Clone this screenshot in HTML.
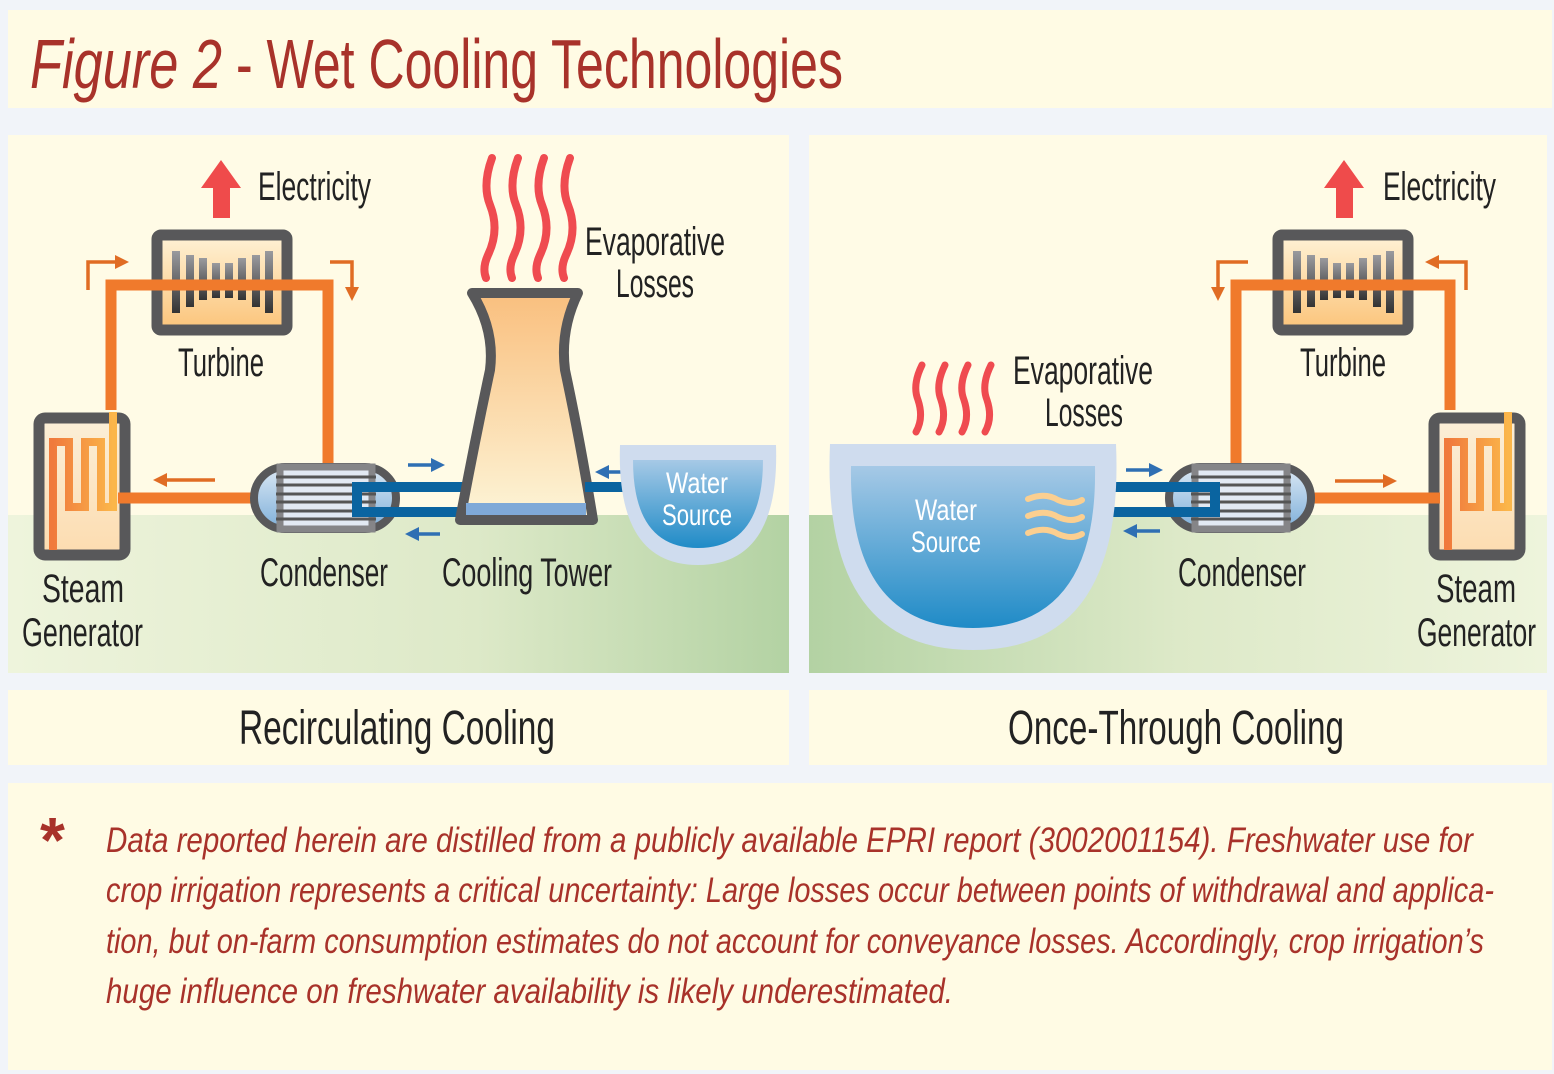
<!DOCTYPE html>
<html><head><meta charset="utf-8"><style>html,body{margin:0;padding:0;background:#f1f4f9}svg{display:block}text{font-family:"Liberation Sans",sans-serif}</style></head><body>
<svg width="1554" height="1074" viewBox="0 0 1554 1074" xmlns="http://www.w3.org/2000/svg">
<defs>
<linearGradient id="gl" x1="0" x2="1" y1="0" y2="0"><stop offset="0" stop-color="#eef4dc"/><stop offset="0.6" stop-color="#dde9c8"/><stop offset="1" stop-color="#b3d2a3"/></linearGradient>
<linearGradient id="gr" x1="0" x2="1" y1="0" y2="0"><stop offset="0" stop-color="#b3d2a3"/><stop offset="0.5" stop-color="#dde9c8"/><stop offset="1" stop-color="#eef4dc"/></linearGradient>
<linearGradient id="peach" x1="0" x2="0" y1="0" y2="1"><stop offset="0" stop-color="#fff2d6"/><stop offset="1" stop-color="#fbc47a"/></linearGradient>
<linearGradient id="peach2" x1="0" x2="0" y1="0" y2="1"><stop offset="0" stop-color="#fbefd8"/><stop offset="1" stop-color="#fcdcb0"/></linearGradient>
<linearGradient id="tower" x1="0" x2="0" y1="0" y2="1"><stop offset="0" stop-color="#f9bf7e"/><stop offset="1" stop-color="#fdf5d8"/></linearGradient>
<linearGradient id="water" x1="0" x2="0" y1="0" y2="1"><stop offset="0" stop-color="#a6c9e6"/><stop offset="1" stop-color="#1f8bc7"/></linearGradient>
<linearGradient id="coil" x1="0" x2="1"><stop offset="0" stop-color="#f07a3c"/><stop offset="1" stop-color="#fbb64a"/></linearGradient>
<linearGradient id="blade" x1="0" x2="0" y1="0" y2="1"><stop offset="0" stop-color="#9a9a9e"/><stop offset="1" stop-color="#333"/></linearGradient>
<linearGradient id="cap" x1="0" x2="0" y1="0" y2="1"><stop offset="0" stop-color="#dbe8f4"/><stop offset="1" stop-color="#7fb0da"/></linearGradient>
<marker id="ao" viewBox="0 0 10 10" refX="5" refY="5" markerWidth="4" markerHeight="4" orient="auto"><path d="M0,0L10,5L0,10z" fill="#e06c24"/></marker>
<marker id="ab" viewBox="0 0 10 10" refX="5" refY="5" markerWidth="4" markerHeight="4" orient="auto"><path d="M0,0L10,5L0,10z" fill="#2f6fb3"/></marker>
<g id="turb">
<rect x="5" y="5" width="130" height="95" rx="4" fill="url(#peach)" stroke="#58585a" stroke-width="11"/>
<g fill="url(#blade)"><rect x="20" y="21" width="8" height="62"/><rect x="34" y="25" width="8" height="52"/><rect x="47" y="28" width="8" height="42"/><rect x="60" y="33" width="8" height="35"/><rect x="73" y="33" width="8" height="35"/><rect x="86" y="28" width="8" height="42"/><rect x="100" y="25" width="8" height="52"/><rect x="113" y="21" width="8" height="62"/></g>
</g>
<g id="sg">
<rect x="6" y="6" width="86" height="137" rx="6" fill="url(#peach2)" stroke="#58585a" stroke-width="11"/>
<path d="M20,138 V80 M20,80 V30 H36 V95 H52 V30 H68 V95 H80 V0" fill="none" stroke="url(#coil)" stroke-width="8"/>
</g>
<g id="cond">
<rect x="4" y="4" width="142" height="62" rx="31" fill="url(#cap)" stroke="#58585a" stroke-width="8"/>
<rect x="30" y="4" width="92" height="62" fill="#e2e9f3" stroke="#858588" stroke-width="7"/>
<g stroke="#555" stroke-width="3"><line x1="26" y1="14" x2="126" y2="14"/><line x1="26" y1="22" x2="126" y2="22"/><line x1="26" y1="31" x2="126" y2="31"/><line x1="26" y1="39" x2="126" y2="39"/><line x1="26" y1="48" x2="126" y2="48"/><line x1="26" y1="56" x2="126" y2="56"/></g>
</g>
</defs>

<rect x="8" y="10" width="1544" height="98" fill="#fffbe4"/>
<text x="30" y="88" font-size="70" fill="#a8322a" font-style="italic" textLength="192" lengthAdjust="spacingAndGlyphs">Figure 2</text>
<text x="236" y="88" font-size="70" fill="#a8322a" textLength="607" lengthAdjust="spacingAndGlyphs">- Wet Cooling Technologies</text>

<rect x="8" y="135" width="781" height="380" fill="#fffbe6"/>
<rect x="8" y="515" width="781" height="158" fill="url(#gl)"/>
<rect x="809" y="135" width="738" height="380" fill="#fffbe6"/>
<rect x="809" y="515" width="738" height="158" fill="url(#gr)"/>
<rect x="8" y="690" width="781" height="75" fill="#fffbe4"/>
<rect x="809" y="690" width="738" height="75" fill="#fffbe4"/>
<rect x="8" y="783" width="1544" height="287" fill="#fffbe4"/>

<!-- LEFT -->
<use href="#turb" x="152" y="230"/>
<use href="#sg" x="33" y="412"/>
<path d="M111,410 V285 H328 V498 H118" fill="none" stroke="#f07a2c" stroke-width="11"/>
<path d="M88,290 V262 H122" fill="none" stroke="#e06c24" stroke-width="3.5" marker-end="url(#ao)"/>
<path d="M330,262 H352 V294" fill="none" stroke="#e06c24" stroke-width="3.5" marker-end="url(#ao)"/>
<path d="M215,480 H160" fill="none" stroke="#e06c24" stroke-width="3.5" marker-end="url(#ao)"/>
<use href="#cond" x="250" y="463"/>
<path d="M470,487 H357 V512 H470" fill="none" stroke="#0a64a0" stroke-width="10"/>
<path d="M408,465 H438" stroke="#2f6fb3" stroke-width="3.5" marker-end="url(#ab)"/>
<path d="M440,534 H412" stroke="#2f6fb3" stroke-width="3.5" marker-end="url(#ab)"/>
<path d="M472,293 H578 Q560,330 565,370 Q580,440 593,520 H460 Q475,440 490,370 Q495,330 472,293 Z" fill="url(#tower)" stroke="#58585a" stroke-width="10" stroke-linejoin="round"/>
<rect x="466" y="503" width="120" height="12" fill="#7fa9d8"/>
<path d="M585,487 H636" stroke="#0a64a0" stroke-width="10"/>
<path d="M640,472 H602" stroke="#2f6fb3" stroke-width="3.5" marker-end="url(#ab)"/>
<path d="M620,445 H776 Q780,565 698,565 Q616,565 620,445 Z" fill="#cfdcee"/>
<path d="M633,460 H763 Q763,548 698,548 Q633,548 633,460 Z" fill="url(#water)"/>
<text x="697" y="493" font-size="30" fill="#fff" text-anchor="middle" textLength="62" lengthAdjust="spacingAndGlyphs">Water</text>
<text x="697" y="525" font-size="30" fill="#fff" text-anchor="middle" textLength="70" lengthAdjust="spacingAndGlyphs">Source</text>
<g fill="none" stroke="#ef4b50" stroke-width="8" stroke-linecap="round">
<path d="M492,158 Q482,185 490,205 Q500,230 488,255 Q482,268 486,278"/>
<path d="M518,158 Q508,185 516,205 Q526,230 514,255 Q508,268 512,278"/>
<path d="M544,158 Q534,185 542,205 Q552,230 540,255 Q534,268 538,278"/>
<path d="M570,158 Q560,185 568,205 Q578,230 566,255 Q560,268 564,278"/>
</g>
<path d="M201,188 L221,160 L241,188 Z" fill="#ef4b4b"/>
<rect x="213" y="185" width="17" height="33" fill="#ef4b4b"/>
<g font-size="40" fill="#222">
<text x="258" y="200" textLength="113" lengthAdjust="spacingAndGlyphs">Electricity</text>
<text x="178" y="376" textLength="86" lengthAdjust="spacingAndGlyphs">Turbine</text>
<text x="585" y="255" textLength="140" lengthAdjust="spacingAndGlyphs">Evaporative</text>
<text x="616" y="297" textLength="78" lengthAdjust="spacingAndGlyphs">Losses</text>
<text x="42" y="602" textLength="82" lengthAdjust="spacingAndGlyphs">Steam</text>
<text x="22" y="646" textLength="121" lengthAdjust="spacingAndGlyphs">Generator</text>
<text x="260" y="586" textLength="128" lengthAdjust="spacingAndGlyphs">Condenser</text>
<text x="442" y="586" textLength="170" lengthAdjust="spacingAndGlyphs">Cooling Tower</text>
</g>

<!-- RIGHT -->
<use href="#turb" x="1273" y="230"/>
<use href="#sg" x="1428" y="412"/>
<path d="M1450,410 V285 H1236 V498 H1440" fill="none" stroke="#f07a2c" stroke-width="11"/>
<path d="M1248,262 H1218 V294" fill="none" stroke="#e06c24" stroke-width="3.5" marker-end="url(#ao)"/>
<path d="M1466,290 V262 H1432" fill="none" stroke="#e06c24" stroke-width="3.5" marker-end="url(#ao)"/>
<path d="M1335,481 H1390" fill="none" stroke="#e06c24" stroke-width="3.5" marker-end="url(#ao)"/>
<use href="#cond" x="1165" y="463"/>
<path d="M1095,487 H1215 V512 H1095" fill="none" stroke="#0a64a0" stroke-width="10"/>
<path d="M1126,470 H1156" stroke="#2f6fb3" stroke-width="3.5" marker-end="url(#ab)"/>
<path d="M1160,531 H1130" stroke="#2f6fb3" stroke-width="3.5" marker-end="url(#ab)"/>
<path d="M830,444 H1116 Q1125,650 973,650 Q821,650 830,444 Z" fill="#cfdcee"/>
<path d="M851,466 H1095 Q1098,628 973,628 Q848,628 851,466 Z" fill="url(#water)"/>
<text x="946" y="520" font-size="30" fill="#fff" text-anchor="middle" textLength="62" lengthAdjust="spacingAndGlyphs">Water</text>
<text x="946" y="552" font-size="30" fill="#fff" text-anchor="middle" textLength="70" lengthAdjust="spacingAndGlyphs">Source</text>
<g fill="none" stroke="#fbcf90" stroke-width="6" stroke-linecap="round">
<path d="M1028,499 Q1045,492 1058,500 Q1072,506 1082,500"/>
<path d="M1028,516 Q1045,509 1058,517 Q1072,523 1082,517"/>
<path d="M1028,533 Q1045,526 1058,534 Q1072,540 1082,534"/>
</g>
<g fill="none" stroke="#ef4b50" stroke-width="7" stroke-linecap="round">
<path d="M922,365 Q912,385 918,400 Q924,418 916,432"/>
<path d="M945,365 Q935,385 941,400 Q947,418 939,432"/>
<path d="M968,365 Q958,385 964,400 Q970,418 962,432"/>
<path d="M991,365 Q981,385 987,400 Q993,418 985,432"/>
</g>
<path d="M1324,188 L1344,160 L1364,188 Z" fill="#ef4b4b"/>
<rect x="1336" y="185" width="17" height="33" fill="#ef4b4b"/>
<g font-size="40" fill="#222">
<text x="1383" y="200" textLength="113" lengthAdjust="spacingAndGlyphs">Electricity</text>
<text x="1300" y="376" textLength="86" lengthAdjust="spacingAndGlyphs">Turbine</text>
<text x="1013" y="384" textLength="140" lengthAdjust="spacingAndGlyphs">Evaporative</text>
<text x="1045" y="426" textLength="78" lengthAdjust="spacingAndGlyphs">Losses</text>
<text x="1436" y="602" textLength="80" lengthAdjust="spacingAndGlyphs">Steam</text>
<text x="1417" y="646" textLength="119" lengthAdjust="spacingAndGlyphs">Generator</text>
<text x="1178" y="586" textLength="128" lengthAdjust="spacingAndGlyphs">Condenser</text>
</g>

<text x="239" y="744" font-size="48" fill="#222" textLength="316" lengthAdjust="spacingAndGlyphs">Recirculating Cooling</text>
<text x="1008" y="744" font-size="48" fill="#222" textLength="336" lengthAdjust="spacingAndGlyphs">Once-Through Cooling</text>

<text x="40" y="862" font-size="64" fill="#a8322a" font-weight="bold">*</text>
<g font-size="35" fill="#a8322a" font-style="italic">
<text x="106" y="852" textLength="1367" lengthAdjust="spacingAndGlyphs">Data reported herein are distilled from a publicly available EPRI report (3002001154). Freshwater use for</text>
<text x="106" y="902" textLength="1388" lengthAdjust="spacingAndGlyphs">crop irrigation represents a critical uncertainty: Large losses occur between points of withdrawal and applica-</text>
<text x="106" y="953" textLength="1378" lengthAdjust="spacingAndGlyphs">tion, but on-farm consumption estimates do not account for conveyance losses. Accordingly, crop irrigation’s</text>
<text x="106" y="1003" textLength="847" lengthAdjust="spacingAndGlyphs">huge influence on freshwater availability is likely underestimated.</text>
</g>
</svg>
</body></html>
